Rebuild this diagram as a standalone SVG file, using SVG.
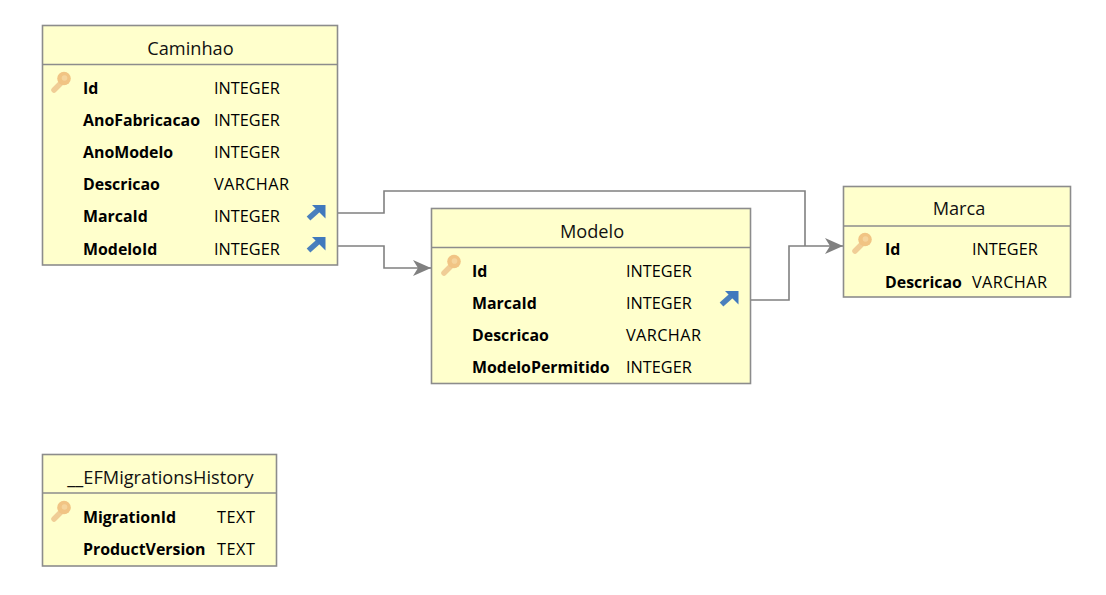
<svg xmlns="http://www.w3.org/2000/svg" xmlns:xlink="http://www.w3.org/1999/xlink" width="1106" height="595" viewBox="0 0 1106 595">
<style>
.box{fill:#ffffcc;stroke:#8c8c8c;stroke-width:1.6}
.sep{stroke:#8c8c8c;stroke-width:1.4;fill:none}
.conn{fill:none;stroke:#808080;stroke-width:1.6}
text{font-family:"Open Sans","Noto Sans","Liberation Sans",sans-serif;fill:#000}
.title{font-size:18.2px;text-anchor:middle;fill:#111}
.n{font-weight:700;font-size:15.9px}
.t{font-size:16.3px}
</style>
<defs>
<marker id="arrow" markerUnits="userSpaceOnUse" markerWidth="20" markerHeight="18" refX="18" refY="8" orient="auto">
<path d="M0 0L18 8L0 16L5 8Z" fill="#808080"/>
</marker>
<g id="key">
<path d="M3 19L10 12" stroke="#f0cd96" stroke-width="5.500" stroke-linecap="round" fill="none"/>
<circle cx="13" cy="7.500" r="6.800" fill="#f1c484"/>
<circle cx="13.500" cy="7" r="2.800" fill="#f5d49c"/>
</g>
<g id="fk">
<path d="M2.500 15.500L12 7" stroke="#4a80bd" stroke-width="5.500" fill="none"/>
<path d="M6 2H19.500V15.500Z" fill="#4079bd"/>
</g>
</defs>

<g id="connectors">
<path class="conn" d="M338 213H384V191H805V246"/>
<path class="conn" d="M750 300H789V246H843" marker-end="url(#arrow)"/>
<path class="conn" d="M338 246H384V268H431" marker-end="url(#arrow)"/>
</g>

<g id="caminhao">
<rect class="box" x="42.500" y="25.500" width="295" height="239.500"/>
<path class="sep" d="M43 64.500H337"/>
<text class="title" x="190.500" y="55">Caminhao</text>
<use xlink:href="#key" href="#key" x="51" y="71"/>
<text class="n" x="83" y="94">Id</text><text class="t" x="214" y="94">INTEGER</text>
<text class="n" x="83" y="126">AnoFabricacao</text><text class="t" x="214" y="126">INTEGER</text>
<text class="n" x="83" y="158">AnoModelo</text><text class="t" x="214" y="158">INTEGER</text>
<text class="n" x="83" y="190">Descricao</text><text class="t" x="214" y="190" textLength="75">VARCHAR</text>
<text class="n" x="83" y="222">MarcaId</text><text class="t" x="214" y="222">INTEGER</text>
<text class="n" x="83" y="255">ModeloId</text><text class="t" x="214" y="255">INTEGER</text>
<use xlink:href="#fk" href="#fk" x="306" y="203"/>
<use xlink:href="#fk" href="#fk" x="306" y="235"/>
</g>

<g id="modelo">
<rect class="box" x="431.500" y="208.500" width="319" height="175"/>
<path class="sep" d="M432 247.500H750"/>
<text class="title" x="592" y="238">Modelo</text>
<use xlink:href="#key" href="#key" x="441" y="254"/>
<text class="n" x="472" y="277">Id</text><text class="t" x="626" y="277">INTEGER</text>
<text class="n" x="472" y="309">MarcaId</text><text class="t" x="626" y="309">INTEGER</text>
<text class="n" x="472" y="341">Descricao</text><text class="t" x="626" y="341" textLength="75">VARCHAR</text>
<text class="n" x="472" y="373">ModeloPermitido</text><text class="t" x="626" y="373">INTEGER</text>
<use xlink:href="#fk" href="#fk" x="719" y="289"/>
</g>

<g id="marca">
<rect class="box" x="843.500" y="186.500" width="227" height="110.500"/>
<path class="sep" d="M844 226H1070"/>
<text class="title" x="959" y="215">Marca</text>
<use xlink:href="#key" href="#key" x="852" y="232"/>
<text class="n" x="885" y="255">Id</text><text class="t" x="972" y="255">INTEGER</text>
<text class="n" x="885" y="288">Descricao</text><text class="t" x="972" y="288" textLength="75">VARCHAR</text>
</g>

<g id="efmigrationshistory">
<rect class="box" x="42.500" y="454.500" width="234" height="111.500"/>
<path class="sep" d="M43 493H276"/>
<text class="title" x="160.500" y="484">__EFMigrationsHistory</text>
<use xlink:href="#key" href="#key" x="51" y="500"/>
<text class="n" x="83" y="523">MigrationId</text><text class="t" x="217" y="523" textLength="38">TEXT</text>
<text class="n" x="83" y="555">ProductVersion</text><text class="t" x="217" y="555" textLength="38">TEXT</text>
</g>
</svg>
